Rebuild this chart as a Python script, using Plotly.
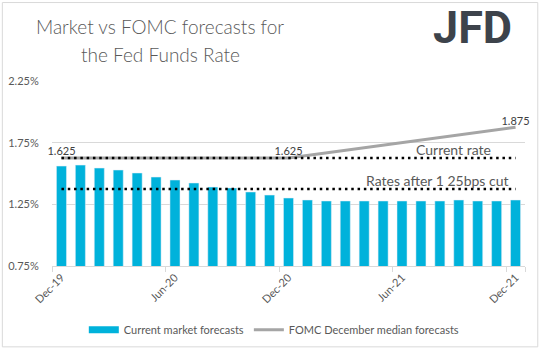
import plotly.graph_objects as go

months = ["Dec-19", "Jan-20", "Feb-20", "Mar-20", "Apr-20", "May-20", "Jun-20",
          "Jul-20", "Aug-20", "Sep-20", "Oct-20", "Nov-20", "Dec-20",
          "Jan-21", "Feb-21", "Mar-21", "Apr-21", "May-21", "Jun-21",
          "Jul-21", "Aug-21", "Sep-21", "Oct-21", "Nov-21", "Dec-21"]
market = [1.560, 1.568, 1.544, 1.528, 1.504, 1.471, 1.447, 1.423, 1.390, 1.382,
          1.350, 1.325, 1.301, 1.285, 1.277, 1.277, 1.277, 1.277, 1.277, 1.277,
          1.277, 1.285, 1.277, 1.277, 1.285]
fomc_months = ["Dec-19", "Dec-20", "Dec-21"]
fomc = [1.625, 1.625, 1.875]
fomc_labels = ["1.625", "1.625", "1.875"]
current_rate = [1.625] * len(months)
cut_rate = [1.375] * len(months)
tick_months = ["Dec-19", "Jun-20", "Dec-20", "Jun-21", "Dec-21"]
y_ticks = [0.75, 1.25, 1.75, 2.25]
y_labels = ["0.75%", "1.25%", "1.75%", "2.25%"]

FONT = "Lato"
GREY = "#595959"
BAR = "#00B2DB"

fig = go.Figure()
fig.add_trace(go.Bar(x=months, y=market, marker_color=BAR, showlegend=False,
                     name="Current market forecasts"))
fig.add_trace(go.Scatter(x=[None], y=[None], mode="lines",
                         line=dict(color=BAR, width=7),
                         name="Current market forecasts"))
fig.add_trace(go.Scatter(x=fomc_months, y=fomc, mode="lines+text",
                         line=dict(color="#A5A5A5", width=3),
                         text=fomc_labels, textposition="top center",
                         cliponaxis=False,
                         textfont=dict(family=FONT, size=11, color="#404040"),
                         name="FOMC December median forecasts"))
fig.add_trace(go.Scatter(x=months, y=current_rate, mode="lines", showlegend=False,
                         line=dict(color="black", width=2.5, dash="2.5px,3.8px")))
fig.add_trace(go.Scatter(x=months, y=cut_rate, mode="lines", showlegend=False,
                         line=dict(color="black", width=2.5, dash="2.5px,3.8px")))

fig.update_layout(
    width=543, height=351,
    margin=dict(l=51.7, r=17.8, t=80.6, b=85, autoexpand=False),
    plot_bgcolor="white", paper_bgcolor="white",
    bargap=0.47,
    font=dict(family=FONT, color=GREY),
    legend=dict(orientation="h", x=0.47, xanchor="center", y=-0.345, yanchor="middle",
                font=dict(family=FONT, size=11, color=GREY), itemwidth=30,
                tracegroupgap=0),
    xaxis=dict(type="category", categoryorder="array", categoryarray=months,
               range=[-0.5, 24.5], tickmode="array", tickvals=tick_months,
               ticktext=tick_months, tickangle=-45, tickson="boundaries",
               ticks="outside", ticklen=5, tickcolor="#d9d9d9", automargin=False,
               showline=True, linecolor="#d9d9d9", showgrid=False,
               tickfont=dict(family=FONT, size=11, color=GREY)),
    yaxis=dict(range=[0.75, 2.25], tickmode="array", tickvals=y_ticks,
               ticktext=y_labels, showgrid=True, gridcolor="#d9d9d9",
               zeroline=False, ticks="outside", ticklen=10, automargin=False,
               tickcolor="rgba(0,0,0,0)",
               tickfont=dict(family=FONT, size=11, color=GREY)),
    shapes=[dict(type="rect", xref="paper", yref="paper", x0=-0.105, x1=1.027,
                 y0=-0.437, y1=1.424, line=dict(color="#d9d9d9", width=1))],
    annotations=[
        dict(text="Market vs FOMC forecasts for", xref="paper", yref="paper",
             x=0.2287, y=1.2945, showarrow=False, xanchor="center", yanchor="middle",
             font=dict(family=FONT, size=19, color=GREY, weight=300)),
        dict(text="the Fed Funds Rate", xref="paper", yref="paper",
             x=0.2287, y=1.1435, showarrow=False, xanchor="center", yanchor="middle",
             font=dict(family=FONT, size=19, color=GREY, weight=300)),
        dict(text="<b>JFD</b>", xref="paper", yref="paper", x=0.8898, y=1.289,
             showarrow=False, xanchor="center", yanchor="middle",
             font=dict(family="Roboto", size=45, color="#3D434B")),
        dict(text="Current rate", xref="paper", yref="y", x=0.932, y=1.695,
             showarrow=False, xanchor="right", yanchor="middle",
             font=dict(family=FONT, size=14, color=GREY)),
        dict(text="Rates after 1 25bps cut", xref="paper", yref="y", x=0.971, y=1.444,
             showarrow=False, xanchor="right", yanchor="middle",
             font=dict(family=FONT, size=14, color=GREY)),
    ],
)

fig.write_html("out.html")
